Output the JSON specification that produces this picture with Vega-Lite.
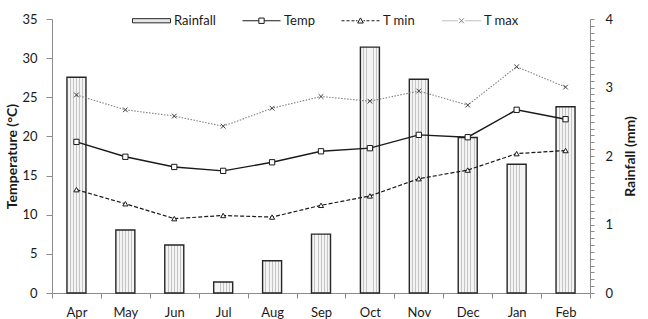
{
  "$schema": "https://vega.github.io/schema/vega-lite/v6.json",
  "autosize": "none",
  "width": 538,
  "height": 274,
  "padding": {"left": 52, "top": 19, "right": 58, "bottom": 26},
  "background": "white",
  "config": {
    "font": "Lato",
    "view": {"stroke": null},
    "axis": {
      "labelFont": "Lato",
      "labelFontSize": 13,
      "labelColor": "#1a1a1a",
      "titleFont": "Lato",
      "titleFontSize": 14,
      "titleFontWeight": "bold",
      "titleColor": "#1a1a1a",
      "domainColor": "#8c8c8c",
      "tickColor": "#8c8c8c",
      "grid": false
    },
    "legend": {
      "labelFont": "Lato",
      "labelFontSize": 13,
      "labelColor": "#1a1a1a"
    }
  },
  "data": {
    "values": [
      {"month": "Apr", "rain": 3.15, "temp": 19.3, "tmin": 13.2, "tmax": 25.3},
      {"month": "May", "rain": 0.92, "temp": 17.4, "tmin": 11.4, "tmax": 23.4},
      {"month": "Jun", "rain": 0.70, "temp": 16.1, "tmin": 9.5, "tmax": 22.6},
      {"month": "Jul", "rain": 0.16, "temp": 15.6, "tmin": 9.9, "tmax": 21.3},
      {"month": "Aug", "rain": 0.47, "temp": 16.7, "tmin": 9.7, "tmax": 23.6},
      {"month": "Sep", "rain": 0.86, "temp": 18.1, "tmin": 11.2, "tmax": 25.1},
      {"month": "Oct", "rain": 3.59, "temp": 18.5, "tmin": 12.4, "tmax": 24.5},
      {"month": "Nov", "rain": 3.12, "temp": 20.2, "tmin": 14.6, "tmax": 25.8},
      {"month": "Dec", "rain": 2.27, "temp": 19.9, "tmin": 15.7, "tmax": 24.0},
      {"month": "Jan", "rain": 1.88, "temp": 23.4, "tmin": 17.8, "tmax": 28.9},
      {"month": "Feb", "rain": 2.72, "temp": 22.2, "tmin": 18.2, "tmax": 26.3}
    ]
  },
  "encoding": {
    "x": {
      "field": "month",
      "type": "nominal",
      "sort": null,
      "scale": {"paddingInner": 0, "paddingOuter": 0},
      "axis": {
        "title": null,
        "labelAngle": 0,
        "tickBand": "extent",
        "tickSize": 5,
        "labelPadding": 8
      }
    }
  },
  "layer": [
    {
      "mark": {
        "type": "bar",
        "size": 19,
        "stroke": "#262626",
        "strokeWidth": 1.4,
        "fill": {
          "gradient": "linear",
          "x1": 0, "x2": 1, "y1": 0, "y2": 0,
          "stops": [
            {"offset": 0, "color": "#f4f4f4"},
            {"offset": 0.15, "color": "#f4f4f4"},
            {"offset": 0.15, "color": "#c4c4c4"},
            {"offset": 0.2, "color": "#c4c4c4"},
            {"offset": 0.2, "color": "#f4f4f4"},
            {"offset": 0.32, "color": "#f4f4f4"},
            {"offset": 0.32, "color": "#c4c4c4"},
            {"offset": 0.37, "color": "#c4c4c4"},
            {"offset": 0.37, "color": "#f4f4f4"},
            {"offset": 0.48, "color": "#f4f4f4"},
            {"offset": 0.48, "color": "#c4c4c4"},
            {"offset": 0.53, "color": "#c4c4c4"},
            {"offset": 0.53, "color": "#f4f4f4"},
            {"offset": 0.64, "color": "#f4f4f4"},
            {"offset": 0.64, "color": "#c4c4c4"},
            {"offset": 0.69, "color": "#c4c4c4"},
            {"offset": 0.69, "color": "#f4f4f4"},
            {"offset": 0.81, "color": "#f4f4f4"},
            {"offset": 0.81, "color": "#c4c4c4"},
            {"offset": 0.86, "color": "#c4c4c4"},
            {"offset": 0.86, "color": "#f4f4f4"},
            {"offset": 1, "color": "#f4f4f4"}
          ]
        }
      },
      "encoding": {
        "y": {
          "field": "rain",
          "type": "quantitative",
          "scale": {"domain": [0, 4], "nice": false},
          "axis": {
            "orient": "right",
            "title": "Rainfall (mm)",
            "titleAngle": 270,
            "titlePadding": 25,
            "values": [0, 0.1, 0.2, 0.3, 0.4, 0.5, 0.6, 0.7, 0.8, 0.9, 1, 1.1, 1.2, 1.3, 1.4, 1.5, 1.6, 1.7, 1.8, 1.9, 2, 2.1, 2.2, 2.3, 2.4, 2.5, 2.6, 2.7, 2.8, 2.9, 3, 3.1, 3.2, 3.3, 3.4, 3.5, 3.6, 3.7, 3.8, 3.9, 4],
            "labelExpr": "abs(datum.value - round(datum.value)) < 0.001 ? format(datum.value, 'd') : ''",
            "tickSize": 4,
            "labelPadding": 11,
            "labelFlush": false,
            "labelOverlap": false,
            "labelBound": false
          }
        }
      }
    },
    {
      "layer": [
        {
          "mark": {"type": "line", "strokeWidth": 1.4},
          "encoding": {
            "y": {"field": "temp", "type": "quantitative"},
            "color": {
              "datum": "Temp",
              "scale": {"domain": ["Rainfall", "Temp", "T min", "T max"], "range": ["#262626", "#1a1a1a", "#1a1a1a", "#808080"]},
              "legend": {
                "title": null,
                "orient": "none",
                "direction": "horizontal",
                "legendX": 80,
                "legendY": -18,
                "symbolSize": 1444,
                "labelOffset": 3,
                "columnPadding": 24,
                "encode": {
                  "symbols": {
                    "update": {
                      "shape": {"signal": "datum.value === 'Rainfall' ? 'M-1,-0.11H1V0.11H-1Z' : datum.value === 'Temp' ? 'M-1,0H-0.14M0.14,0H1M-0.14,-0.14H0.14V0.14H-0.14Z' : datum.value === 'T min' ? 'M-1,0H-0.842M-0.737,0H-0.579M-0.474,0H-0.316M-0.237,0H-0.158M0.158,0H0.237M0.316,0H0.474M0.579,0H0.737M0.842,0H1M-0.15,0.12L0.15,0.12L0,-0.15Z' : 'M-1,0H-0.947M-0.895,0H-0.842M-0.789,0H-0.737M-0.684,0H-0.632M-0.579,0H-0.526M-0.474,0H-0.421M-0.368,0H-0.316M-0.263,0H-0.211M-0.13,-0.13L0.13,0.13M-0.13,0.13L0.13,-0.13M0.211,0H0.263M0.316,0H0.368M0.421,0H0.474M0.526,0H0.579M0.632,0H0.684M0.737,0H0.789M0.842,0H0.895M0.947,0H1'"},
                      "fill": {"signal": "datum.value === 'Rainfall' ? '#e6e6e6' : 'transparent'"},
                      "stroke": {"signal": "datum.value === 'T max' ? '#808080' : '#262626'"},
                      "strokeWidth": {"value": 1},
                      "size": {"value": 1444},
                      "opacity": {"value": 1}
                    }
                  }
                }
              }
            }
          }
        },
        {
          "mark": {"type": "point", "shape": "square", "size": 28, "filled": true, "fill": "white", "stroke": "#1a1a1a", "strokeWidth": 1, "opacity": 1},
          "encoding": {"y": {"field": "temp", "type": "quantitative"}}
        },
        {
          "mark": {"type": "line", "strokeWidth": 1.2, "strokeDash": [4, 2]},
          "encoding": {
            "y": {"field": "tmin", "type": "quantitative"},
            "color": {
              "datum": "T min",
              "scale": {"domain": ["Rainfall", "Temp", "T min", "T max"], "range": ["#262626", "#1a1a1a", "#1a1a1a", "#808080"]}
            }
          }
        },
        {
          "mark": {"type": "point", "shape": "triangle-up", "size": 26, "filled": true, "fill": "white", "stroke": "#1a1a1a", "strokeWidth": 1, "opacity": 1},
          "encoding": {"y": {"field": "tmin", "type": "quantitative"}}
        },
        {
          "mark": {"type": "line", "strokeWidth": 1.1, "strokeDash": [1.5, 1.5]},
          "encoding": {
            "y": {"field": "tmax", "type": "quantitative"},
            "color": {
              "datum": "T max",
              "scale": {"domain": ["Rainfall", "Temp", "T min", "T max"], "range": ["#262626", "#1a1a1a", "#1a1a1a", "#808080"]}
            }
          }
        },
        {
          "mark": {"type": "point", "shape": "M-1,-1L1,1M-1,1L1,-1", "size": 22, "filled": false, "stroke": "#404040", "strokeWidth": 1, "opacity": 1},
          "encoding": {"y": {"field": "tmax", "type": "quantitative"}}
        }
      ],
      "encoding": {
        "y": {
          "type": "quantitative",
          "scale": {"domain": [0, 35], "nice": false},
          "axis": {
            "orient": "left",
            "title": "Temperature (°C)",
            "values": [0, 5, 10, 15, 20, 25, 30, 35],
            "tickSize": 6,
            "labelPadding": 9,
            "titlePadding": 2
          }
        }
      }
    }
  ],
  "resolve": {"scale": {"y": "independent"}}
}
